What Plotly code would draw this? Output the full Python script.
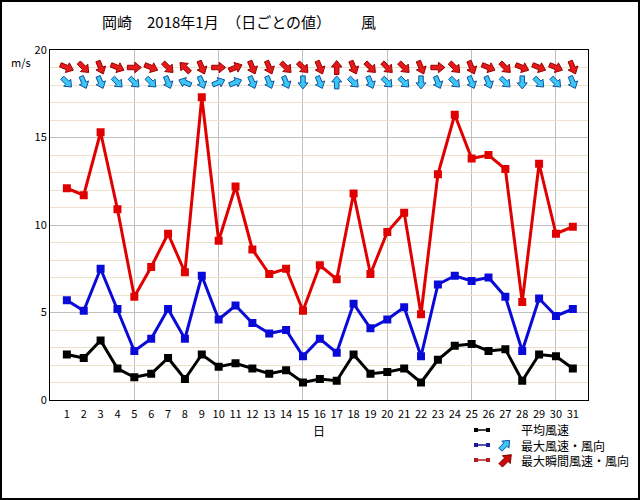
import math
import plotly.graph_objects as go

# ---------------- data ----------------
days = list(range(1, 32))
tick_labels = [str(d) for d in days]
avg_speed = [2.6, 2.4, 3.4, 1.8, 1.3, 1.5, 2.4, 1.2, 2.6, 1.9, 2.1, 1.8, 1.5, 1.7, 1.0, 1.2,
             1.1, 2.6, 1.5, 1.6, 1.8, 1.0, 2.3, 3.1, 3.2, 2.8, 2.9, 1.1, 2.6, 2.5, 1.8]
max_speed = [5.7, 5.1, 7.5, 5.2, 2.8, 3.5, 5.2, 3.5, 7.1, 4.6, 5.4, 4.4, 3.8, 4.0, 2.5, 3.5,
             2.7, 5.5, 4.1, 4.6, 5.3, 2.5, 6.6, 7.1, 6.8, 7.0, 5.9, 2.8, 5.8, 4.8, 5.2]
max_gust = [12.1, 11.7, 15.3, 10.9, 5.9, 7.6, 9.5, 7.3, 17.3, 9.1, 12.2, 8.6, 7.2, 7.5, 5.1, 7.7,
            6.9, 11.8, 7.2, 9.6, 10.7, 4.9, 12.9, 16.3, 13.8, 14.0, 13.2, 5.6, 13.5, 9.5, 9.9]
# wind directions (where the wind blows FROM)
max_dir = ["NW", "NNW", "NNW", "NW", "NW", "NW", "NNW", "ESE", "NNW", "WSW", "WSW", "NNW", "NNW", "NNW", "N", "NNW",
           "S", "NW", "NNW", "NW", "NW", "N", "NNW", "NW", "NNW", "NNW", "NW", "N", "NW", "NW", "NNW"]
gust_dir = ["WNW", "NW", "NNW", "WNW", "W", "WNW", "NW", "SE", "NNW", "W", "WSW", "NNW", "NNW", "NW", "NW", "NNW",
            "S", "NNW", "NW", "NW", "NW", "NNW", "W", "NW", "NNW", "WNW", "NW", "WNW", "WNW", "WNW", "NNW"]
y_ticks = [0, 5, 10, 15, 20]
series_names = ["平均風速", "最大風速・風向", "最大瞬間風速・風向"]
title_text = "岡崎　2018年1月　（日ごとの値）　　\u2002風"

COMPASS = {n: i * 22.5 for i, n in enumerate(
    ["N", "NNE", "NE", "ENE", "E", "ESE", "SE", "SSE", "S", "SSW", "SW", "WSW", "W", "WNW", "NW", "NNW"])}

FONT = "Noto Sans CJK JP"
W, H = 640, 500
ML, MR, MT, MB = 50, 52, 50, 100
PW, PH = W - ML - MR, H - MT - MB
X_RANGE = [0, 31.9]
Y_RANGE = [0, 20]
XPX = PW / (X_RANGE[1] - X_RANGE[0])   # pixels per day
YPX = PH / (Y_RANGE[1] - Y_RANGE[0])   # pixels per m/s


def px(x):
    return (x - ML) / PW


def py(y):
    return (H - MB - y) / PH


RED, BLUE, BLACK = "#e00000", "#0a0ad8", "#000000"
RED_FILL, RED_EDGE = "#e41a1a", "#9a0000"
BLUE_FILL, BLUE_EDGE = "#3cc8f6", "#1050a0"


def arrow_outline(deg, length, shaft, head_len, head_w):
    """Pixel offsets (east, north) of a block arrow centred on 0 pointing to bearing deg."""
    phi = math.radians(deg)
    ux, uy = math.sin(phi), math.cos(phi)
    vx, vy = uy, -ux
    a0, a1, a2 = -length / 2, length / 2 - head_len, length / 2
    s, h = shaft / 2, head_w / 2
    local = [(a0, -s), (a1, -s), (a1, -h), (a2, 0), (a1, h), (a1, s), (a0, s), (a0, -s)]
    return [(a * ux + b * vx, a * uy + b * vy) for a, b in local]


fig = go.Figure()
for vals, col in [(avg_speed, BLACK), (max_speed, BLUE), (max_gust, RED)]:
    fig.add_trace(go.Scatter(x=days, y=vals, mode="lines+markers",
                             line=dict(color=col, width=3),
                             marker=dict(symbol="square", size=8, color=col),
                             showlegend=False, hoverinfo="x+y"))

# direction arrows, one filled polygon per day, placed through the axes
for dirs, level, fill, edge, dims in [
        (gust_dir, 19.0, RED_FILL, RED_EDGE, (14, 4.5, 6.5, 10.5)),
        (max_dir, 18.15, BLUE_FILL, BLUE_EDGE, (13, 4.5, 6, 10))]:
    xs, ys = [], []
    for d, name in zip(days, dirs):
        for ox, oy in arrow_outline(COMPASS[name] + 180, *dims):
            xs.append(d + ox / XPX)
            ys.append(level + oy / YPX)
        xs.append(None)
        ys.append(None)
    fig.add_trace(go.Scatter(x=xs, y=ys, mode="lines", fill="toself", fillcolor=fill,
                             line=dict(color=edge, width=1), showlegend=False, hoverinfo="skip"))

annotations = []
# title and unit
annotations.append(dict(x=px(100), y=py(22), xref="paper", yref="paper", text=title_text,
                        showarrow=False, xanchor="left", yanchor="middle",
                        font=dict(family=FONT, size=15, color="black")))
annotations.append(dict(x=px(9), y=py(62), xref="paper", yref="paper", text="m/s",
                        showarrow=False, xanchor="left", yanchor="middle",
                        font=dict(family=FONT, size=11, color="black")))

# custom legend
shapes = []
leg_rows = [430, 445, 460]
leg_cols = [BLACK, "#1a1a9a", "#b02020"]
for yy, col in zip(leg_rows, leg_cols):
    shapes.append(dict(type="line", xref="paper", yref="paper", x0=px(476), x1=px(488),
                       y0=py(yy), y1=py(yy), line=dict(color=col, width=1.5)))
    for xx in (476, 488):
        shapes.append(dict(type="rect", xref="paper", yref="paper", x0=px(xx - 2), x1=px(xx + 2),
                           y0=py(yy - 2), y1=py(yy + 2), line=dict(width=0), fillcolor=col))
annotations.append(dict(x=px(519), y=py(445), xref="paper", yref="paper", text="<br>".join(series_names),
                        showarrow=False, xanchor="left", yanchor="middle", align="left",
                        font=dict(family=FONT, size=12, color="black")))

for cx, cy, dims, fill, edge in [(505, 445, (13, 4.5, 6, 10), BLUE_FILL, BLUE_EDGE),
                                 (506, 460, (15, 5, 7, 11), "#c80a0a", "#7a0000")]:
    pts = arrow_outline(45, *dims)
    path = "M" + "L".join(f"{px(cx + ox):.5f},{py(cy - oy):.5f}" for ox, oy in pts) + "Z"
    shapes.append(dict(type="path", xref="paper", yref="paper", path=path, fillcolor=fill,
                       line=dict(color=edge, width=1)))

# outer frame
shapes.append(dict(type="rect", xref="paper", yref="paper", x0=px(1), x1=px(639), y0=py(1), y1=py(499),
                   line=dict(color="black", width=2), fillcolor="rgba(0,0,0,0)", layer="above"))

fig.update_layout(
    width=W, height=H, margin=dict(l=ML, r=MR, t=MT, b=MB, pad=0),
    paper_bgcolor="white", plot_bgcolor="white",
    font=dict(family=FONT, size=11, color="black"),
    annotations=annotations, shapes=shapes, showlegend=False,
    xaxis=dict(range=X_RANGE, tickmode="array", tickvals=days, ticktext=tick_labels,
               showgrid=False, zeroline=False, ticks="", showline=True, linecolor="black",
               linewidth=1, mirror=True, tickfont=dict(family=FONT, size=11, color="black"),
               ticklabelstandoff=4,
               minor=dict(tickmode="array", tickvals=[5, 10, 15, 20, 25, 30], showgrid=True,
                          gridcolor="#c0c0c0", gridwidth=1, ticks=""),
               title=dict(text="日", font=dict(family=FONT, size=12, color="black"), standoff=7)),
    yaxis=dict(range=Y_RANGE, tickmode="array", tickvals=y_ticks, showgrid=True, gridcolor="#c0c0c0",
               gridwidth=1, zeroline=False, ticks="", showline=True, linecolor="black", linewidth=1,
               mirror=True, tickfont=dict(family=FONT, size=11, color="black"),
               minor=dict(dtick=1, showgrid=True, gridcolor="#ede2c9", gridwidth=1, ticks="")),
)

fig.write_html("out.html")
